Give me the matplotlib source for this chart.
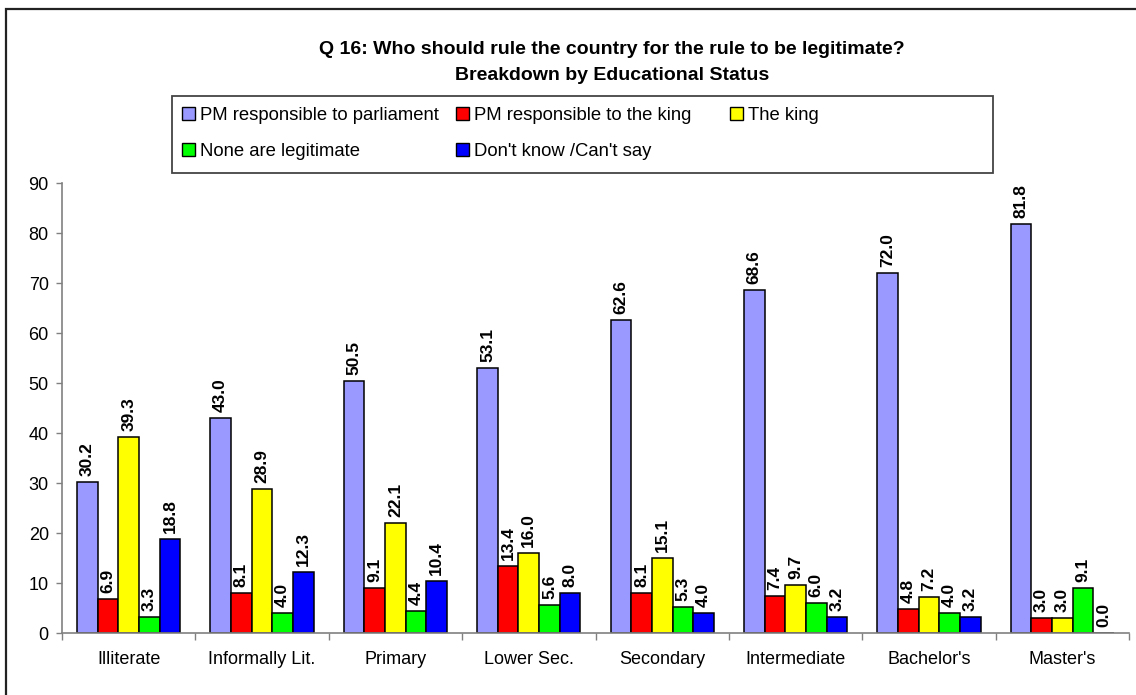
import matplotlib
matplotlib.use("Agg")
import matplotlib.pyplot as plt
import numpy as np
from matplotlib.patches import Rectangle, Patch

plt.rcParams['font.family'] = ['Liberation Sans', 'DejaVu Sans']

categories = ["Illiterate", "Informally Lit.", "Primary", "Lower Sec.",
              "Secondary", "Intermediate", "Bachelor's", "Master's"]
series_names = ["PM responsible to parliament", "PM responsible to the king",
                "The king", "None are legitimate", "Don't know /Can't say"]
pm_parliament = [30.2, 43.0, 50.5, 53.1, 62.6, 68.6, 72.0, 81.8]
pm_king = [6.9, 8.1, 9.1, 13.4, 8.1, 7.4, 4.8, 3.0]
the_king = [39.3, 28.9, 22.1, 16.0, 15.1, 9.7, 7.2, 3.0]
none_legit = [3.3, 4.0, 4.4, 5.6, 5.3, 6.0, 4.0, 9.1]
dont_know = [18.8, 12.3, 10.4, 8.0, 4.0, 3.2, 3.2, 0.0]
y_ticks = [0, 10, 20, 30, 40, 50, 60, 70, 80, 90]

series = [pm_parliament, pm_king, the_king, none_legit, dont_know]
colors = ["#9999FF", "#FF0000", "#FFFF00", "#00FF00", "#0000FF"]

W, H = 1136, 695
fig = plt.figure(figsize=(W / 100, H / 100), dpi=100)

# outer chart frame (top and left edges visible)
fig.patches.append(Rectangle((6 / W, -0.1), 1.2, 1.1 - 9 / H,
                             transform=fig.transFigure, fill=False,
                             edgecolor="#222222", linewidth=1.6, zorder=0))

ax = fig.add_axes([62 / W, 1 - 633 / H, (1129 - 62) / W, (633 - 183) / H])

x = np.arange(len(categories))
bw = 0.155
handles = []
for i, (vals, col) in enumerate(zip(series, colors)):
    pos = x + (i - 2) * bw
    ax.bar(pos, vals, width=bw, color=col, edgecolor="black", linewidth=1.1, zorder=2)
    for p, v in zip(pos, vals):
        ax.annotate(f"{v:.1f}", (p, v), xytext=(0, 4), textcoords="offset points",
                    rotation=90, ha="center", va="bottom", fontsize=12.5,
                    fontweight="bold", color="black")
    handles.append(Patch(facecolor=col, edgecolor="black", linewidth=1.0))

ax.set_xlim(-0.5, len(categories) - 0.5)
ax.set_ylim(0, 90)
ax.set_yticks(y_ticks)
ax.set_xticks(x)
ax.set_xticklabels(categories)
ax.set_xticks(np.arange(len(categories) + 1) - 0.5, minor=True)

for s in ["top", "right"]:
    ax.spines[s].set_visible(False)
for s in ["left", "bottom"]:
    ax.spines[s].set_color("#808080")
    ax.spines[s].set_linewidth(1.2)

ax.tick_params(axis="y", direction="out", length=4, width=1, color="#808080",
               labelsize=13, pad=5.5)
ax.tick_params(axis="x", which="major", length=0, labelsize=13, pad=13)
ax.tick_params(axis="x", which="minor", direction="out", length=5, width=1,
               color="#808080")

fig.text(612 / W, 1 - 50 / H, "Q 16: Who should rule the country for the rule to be legitimate?",
         ha="center", va="center", fontsize=14, fontweight="bold")
fig.text(612 / W, 1 - 75 / H, "Breakdown by Educational Status",
         ha="center", va="center", fontsize=14, fontweight="bold")

# legend: frame plus three fixed-width columns filled row by row
fig.patches.append(Rectangle((172 / W, 1 - 173 / H), (993 - 172) / W, (173 - 96) / H,
                             transform=fig.transFigure, fill=False,
                             edgecolor="#444444", linewidth=1.3, zorder=3))
columns = [[0, 3], [1, 4], [2]]
col_x = [182, 456, 730]
for idx, cx in zip(columns, col_x):
    leg = fig.legend([handles[i] for i in idx], [series_names[i] for i in idx],
                     loc="upper left", bbox_to_anchor=(cx / W, 1 - 107 / H),
                     borderaxespad=0, borderpad=0, fontsize=13.3,
                     handlelength=0.72, handleheight=0.72, handletextpad=0.25,
                     labelspacing=1.0, frameon=False)

fig.savefig("out.png", dpi=100)
